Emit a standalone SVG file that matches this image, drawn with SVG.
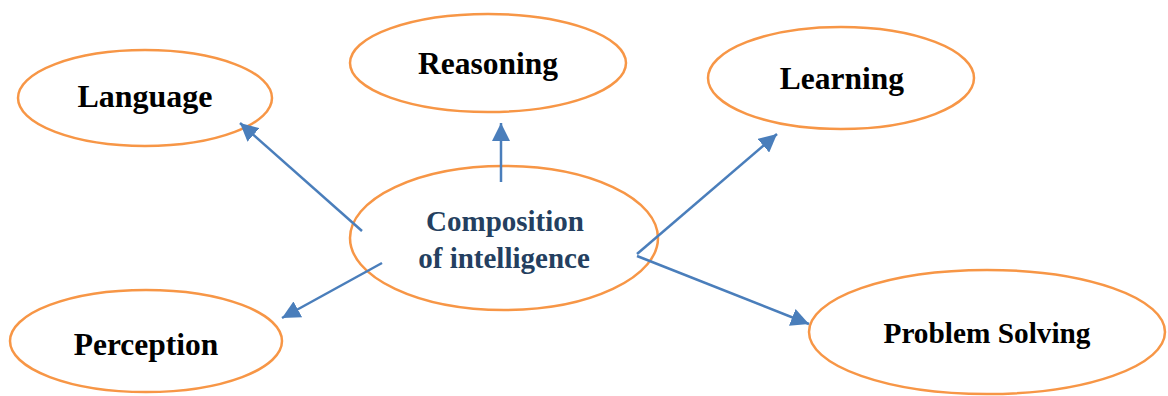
<svg xmlns="http://www.w3.org/2000/svg" width="1168" height="396" viewBox="0 0 1168 396">
<style>
.n{fill:#fff;stroke:#f79646;stroke-width:2.5}
.t{font-family:"Liberation Serif","Times New Roman",serif;font-weight:bold;fill:#000;text-anchor:middle}
.c{stroke:#4a7ebb;stroke-width:2.5;fill:none;marker-end:url(#ah)}
</style>
<defs>
<marker id="ah" markerUnits="userSpaceOnUse" markerWidth="18" markerHeight="18" refX="16" refY="8" orient="auto" viewBox="0 0 16 16">
<path d="M0,0 L16,8 L0,16 Z" fill="#4a7ebb"/>
</marker>
</defs>
<g id="language"><ellipse class="n" cx="145" cy="98" rx="127" ry="48"/><text class="t" x="145" y="107" font-size="32">Language</text></g>
<g id="reasoning"><ellipse class="n" cx="488" cy="63" rx="138" ry="49"/><text class="t" x="488" y="74" font-size="31.5">Reasoning</text></g>
<g id="learning"><ellipse class="n" cx="841" cy="78" rx="133" ry="51"/><text class="t" x="842" y="89" font-size="31.5">Learning</text></g>
<g id="composition"><ellipse class="n" cx="504" cy="238" rx="154" ry="72"/><text class="t" x="505" y="231" font-size="29" style="fill:#243f60">Composition</text><text class="t" x="504" y="268" font-size="29" style="fill:#243f60">of intelligence</text></g>
<g id="perception"><ellipse class="n" cx="146" cy="341" rx="136" ry="51"/><text class="t" x="146" y="355" font-size="31.5">Perception</text></g>
<g id="problem"><ellipse class="n" cx="987" cy="332" rx="178" ry="62"/><text class="t" x="987" y="343" font-size="29.3">Problem Solving</text></g>
<g id="connectors">
<line class="c" x1="362" y1="231" x2="240" y2="123"/>
<line class="c" x1="501" y1="182" x2="501" y2="123"/>
<line class="c" x1="637" y1="254" x2="777" y2="134"/>
<line class="c" x1="637" y1="256" x2="809" y2="324"/>
<line class="c" x1="382" y1="263" x2="282" y2="318"/>
</g>
</svg>
